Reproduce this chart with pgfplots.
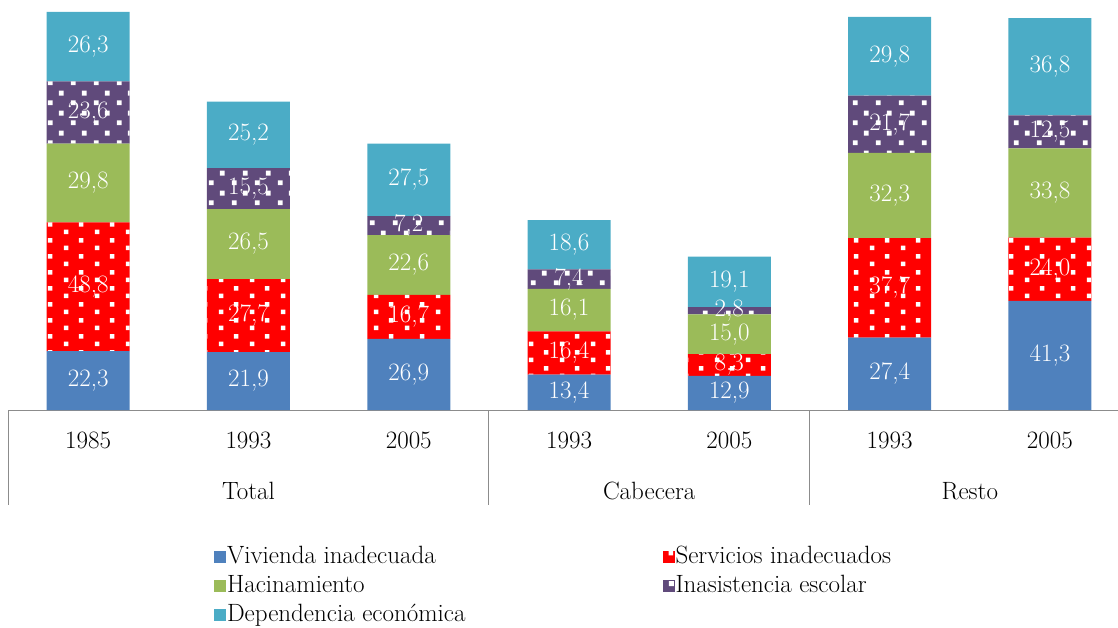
\documentclass[border=0pt]{standalone}
\usepackage{fontspec}
\usepackage{pgfplots}
\pgfplotsset{compat=1.18}
\usetikzlibrary{patterns}

\definecolor{cviv}{HTML}{4F81BD}
\definecolor{cser}{HTML}{FF0000}
\definecolor{chac}{HTML}{9BBB59}
\definecolor{cina}{HTML}{604A7B}
\definecolor{cdep}{HTML}{4BACC6}
\definecolor{cline}{HTML}{8C8C8C}

\pgfdeclarepatternformonly{serdots}{\pgfpointorigin}{\pgfqpoint{31pt}{15.5pt}}{\pgfqpoint{31pt}{15.5pt}}{%
  \pgfpathrectangle{\pgfqpoint{2pt}{2pt}}{\pgfqpoint{4.5pt}{4.5pt}}%
  \pgfpathrectangle{\pgfqpoint{17.5pt}{9.75pt}}{\pgfqpoint{4.5pt}{4.5pt}}%
  \pgfusepath{fill}}
\pgfdeclarepatternformonly{inadots}{\pgfpointorigin}{\pgfqpoint{23pt}{20pt}}{\pgfqpoint{23pt}{20pt}}{%
  \pgfpathrectangle{\pgfqpoint{2pt}{2pt}}{\pgfqpoint{5pt}{5pt}}%
  \pgfpathrectangle{\pgfqpoint{13.5pt}{12pt}}{\pgfqpoint{5pt}{5pt}}%
  \pgfusepath{fill}}

\newcommand{\bigf}{\fontsize{25}{30}\selectfont}

\pgfplotsset{
  base/.style={
    scale only axis, width=1118pt, height=410pt,
    xmin=-0.55, xmax=6.425, ymin=0, ymax=155.3,
    clip=false,
  },
  leg/.style={legend image code/.code={\fill[##1] (0pt,-6pt) rectangle (12pt,6pt);}},
}

\begin{document}
\begin{tikzpicture}
\begin{axis}[base, name=main,
  ybar stacked, bar width=83pt,
  axis lines*=left, axis line style={draw=none},
  ytick=\empty, major tick length=0pt,
  xtick={0,1,2,3,4,5,6},
  xticklabels={1985,1993,2005,1993,2005,1993,2005},
  xticklabel style={anchor=center, yshift=-30pt, font=\bigf},
  legend style={at={(0.1914,-0.3270)}, anchor=north west, draw=none, fill=none,
    inner sep=0pt, outer sep=0pt, legend columns=2, font=\bigf, row sep=4pt,
    nodes={inner sep=1pt, text height=18pt, text depth=5pt},
    /tikz/every even column/.append style={column sep=196pt}},
  legend cell align=left,
]
\addplot[fill=cviv, draw=none, leg] coordinates {(0,22.3) (1,21.9) (2,26.9) (3,13.4) (4,12.9) (5,27.4) (6,41.3)};
\addplot[fill=cser, draw=none, postaction={pattern=serdots, pattern color=white}, leg] coordinates {(0,48.8) (1,27.7) (2,16.7) (3,16.4) (4,8.3) (5,37.7) (6,24.0)};
\addplot[fill=chac, draw=none, leg] coordinates {(0,29.8) (1,26.5) (2,22.6) (3,16.1) (4,15.0) (5,32.3) (6,33.8)};
\addplot[fill=cina, draw=none, postaction={pattern=inadots, pattern color=white}, leg] coordinates {(0,23.6) (1,15.5) (2,7.2) (3,7.4) (4,2.8) (5,21.7) (6,12.5)};
\addplot[fill=cdep, draw=none, leg] coordinates {(0,26.3) (1,25.2) (2,27.5) (3,18.6) (4,19.1) (5,29.8) (6,36.8)};
\legend{Vivienda inadecuada, Servicios inadecuados, Hacinamiento, Inasistencia escolar, Dependencia económica}

\draw[cline, line width=1pt] (axis cs:-0.5,0) -- (axis cs:6.425,0);
\draw[cline, line width=1pt] (axis cs:-0.5,0) -- ++(0pt,-95pt);
\draw[cline, line width=1pt] (axis cs:2.5,0) -- ++(0pt,-95pt);
\draw[cline, line width=1pt] (axis cs:4.5,0) -- ++(0pt,-95pt);
\node[font=\bigf, anchor=center] at ([yshift=-81pt]axis cs:1,0) {Total};
\node[font=\bigf, anchor=center] at ([yshift=-81pt]axis cs:3.5,0) {Cabecera};
\node[font=\bigf, anchor=center] at ([yshift=-81pt]axis cs:5.5,0) {Resto};
\end{axis}

\begin{axis}[base, hide axis]
\addplot[only marks, mark=*, mark size=0pt, mark options={draw=none, fill=none},
  nodes near coords, point meta=explicit symbolic, nodes near coords align={center},
  every node near coord/.append style={text=white, font=\bigf, inner sep=0pt}]
  table[meta=lab] {
x y lab
0 11.15 22,3
0 46.7 48,8
0 86.0 29,8
0 112.7 23,6
0 137.65 26,3
1 10.95 21,9
1 35.75 27,7
1 62.85 26,5
1 83.85 15,5
1 104.2 25,2
2 13.45 26,9
2 35.25 16,7
2 54.9 22,6
2 69.8 7,2
2 87.15 27,5
3 6.7 13,4
3 21.6 16,4
3 37.85 16,1
3 49.6 7,4
3 62.6 18,6
4 6.45 12,9
4 17.05 8,3
4 28.7 15,0
4 37.6 2,8
4 48.55 19,1
5 13.7 27,4
5 46.25 37,7
5 81.25 32,3
5 108.25 21,7
5 134.0 29,8
6 20.65 41,3
6 53.3 24,0
6 82.2 33,8
6 105.35 12,5
6 130.0 36,8
};
\end{axis}

\pgfresetboundingbox
\path[use as bounding box] (main.north west) rectangle ++(1118pt,-627pt);
\end{tikzpicture}
\end{document}
